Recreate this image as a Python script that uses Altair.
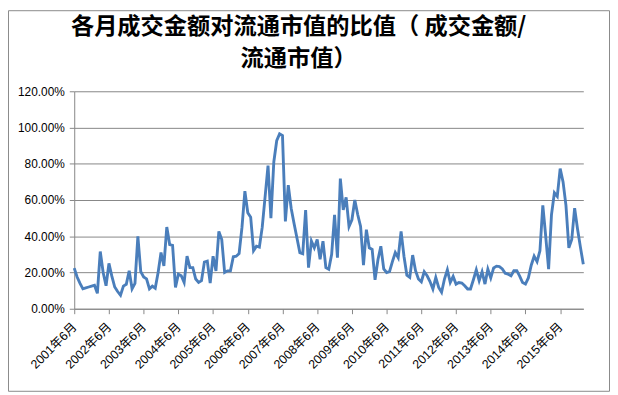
import json
import altair as alt
import pandas as pd

# Monthly ratio of turnover to free-float market value (%), 2001-06 .. 2016-02
ratio_pct = [
    22.4, 17.5, 14.0, 11.0, 11.5, 12.0, 12.5, 13.0, 8.5, 31.6, 20.0, 12.7,
    25.0, 18.0, 12.0, 9.5, 7.5, 12.5, 13.5, 21.0, 11.0, 14.0, 40.0, 20.5,
    17.5, 16.5, 11.0, 12.5, 11.3, 20.0, 31.0, 23.6, 45.1, 35.4, 35.0, 11.8,
    19.1, 18.2, 14.5, 29.0, 22.7, 22.7, 16.4, 14.5, 15.5, 25.8, 26.3, 14.2,
    29.0, 20.9, 42.7, 38.2, 20.0, 20.9, 20.9, 28.7, 29.0, 30.5, 45.0, 64.9,
    53.0, 50.5, 32.0, 34.5, 34.0, 45.0, 62.0, 79.0, 50.0, 81.0, 92.7, 96.5,
    95.5, 48.2, 68.2, 55.5, 47.0, 39.0, 31.0, 30.4, 54.5, 22.7, 37.3, 33.6,
    38.2, 27.3, 37.3, 22.7, 21.8, 30.0, 51.8, 28.2, 71.8, 54.5, 61.5, 45.4,
    49.1, 60.0, 52.0, 45.4, 24.0, 43.6, 33.6, 32.7, 16.0, 27.0, 34.5, 22.0,
    20.0, 20.5, 26.0, 31.0, 28.2, 42.7, 29.0, 18.5, 17.3, 29.6, 21.0, 16.4,
    14.9, 20.4, 18.2, 15.0, 10.9, 17.3, 11.8, 9.1, 16.4, 21.5, 14.5, 17.8,
    13.6, 14.5, 14.2, 12.7, 10.9, 10.9, 16.0, 21.5, 15.5, 20.4, 13.6, 21.8,
    17.0, 22.5, 23.5, 23.3, 22.0, 19.6, 19.1, 18.2, 21.0, 21.0, 18.0, 14.5,
    13.6, 17.0, 24.0, 29.0, 26.0, 32.0, 57.0, 40.0, 21.8, 52.0, 64.0, 62.0,
    77.3, 70.0, 57.0, 33.6, 38.2, 55.5, 44.0, 34.0, 24.5,
]

tick_labels = [
    "2001年6月", "2002年6月", "2003年6月", "2004年6月", "2005年6月",
    "2006年6月", "2007年6月", "2008年6月", "2009年6月", "2010年6月",
    "2011年6月", "2012年6月", "2013年6月", "2014年6月", "2015年6月",
]

y_ticks = [0.0, 0.2, 0.4, 0.6, 0.8, 1.0, 1.2]

title_lines = ["各月成交金额对流通市值的比值（ 成交金额/", "流通市值）"]

df = pd.DataFrame({
    "idx": list(range(len(ratio_pct))),
    "ratio": [v / 100 for v in ratio_pct],
})

W, H = 515, 220
PAD = {"left": 67, "top": 82, "right": 27, "bottom": 84}
GRID = "#878787"
LABEL_FONT = "'Liberation Sans', 'Noto Sans CJK SC', sans-serif"
TITLE_FONT = "'Noto Sans CJK SC'"

label_expr = json.dumps(tick_labels, ensure_ascii=False) + "[round(datum.value / 12)]"

line = alt.Chart(df).mark_line(color="#4A7EBB", strokeWidth=2.9).encode(
    x=alt.X(
        "idx:Q",
        scale=alt.Scale(domain=[0, len(ratio_pct) - 1], nice=False, zero=False),
        axis=alt.Axis(
            values=[12 * i for i in range(len(tick_labels))],
            labelExpr=label_expr,
            title=None,
            grid=False,
            labelAngle=-45,
            labelAlign="right",
            labelBaseline="middle",
            labelPadding=11,
            labelFont=LABEL_FONT,
            labelFontSize=12.5,
            labelColor="#000000",
            tickSize=5,
            tickColor=GRID,
            domainColor=GRID,
            labelOverlap=False,
        ),
    ),
    y=alt.Y(
        "ratio:Q",
        scale=alt.Scale(domain=[0, 1.2], nice=False),
        axis=alt.Axis(
            values=y_ticks,
            format=".2%",
            title=None,
            grid=True,
            gridColor=GRID,
            gridWidth=1,
            tickSize=5,
            tickColor=GRID,
            domainColor=GRID,
            labelFont=LABEL_FONT,
            labelFontSize=12,
            labelColor="#000000",
            labelPadding=5,
        ),
    ),
)

def title_text(text, y):
    return alt.Chart(alt.Data(values=[{"t": text}])).mark_text(
        font=TITLE_FONT, fontSize=23.5, fontWeight="bold", color="#000000",
        align="center", baseline="middle",
    ).encode(text="t:N", x=alt.value(227), y=alt.value(y))

title1 = title_text(title_lines[0], -65)
title2 = title_text(title_lines[1], -33)

border = alt.Chart(alt.Data(values=[{}])).mark_rect(
    fillOpacity=0, stroke="#8a8a8a", strokeWidth=1
).encode(
    x=alt.value(-PAD["left"] + 0.5),
    x2=alt.value(W + PAD["right"] - 0.5),
    y=alt.value(-PAD["top"] + 0.5),
    y2=alt.value(H + PAD["bottom"] - 0.5),
)

chart = alt.layer(line, title1, title2, border).properties(
    width=W,
    height=H,
    padding=PAD,
    autosize=alt.AutoSizeParams(type="none"),
).configure_view(stroke=None)

chart.save("out.html", embed_options={"renderer": "svg", "actions": False})
